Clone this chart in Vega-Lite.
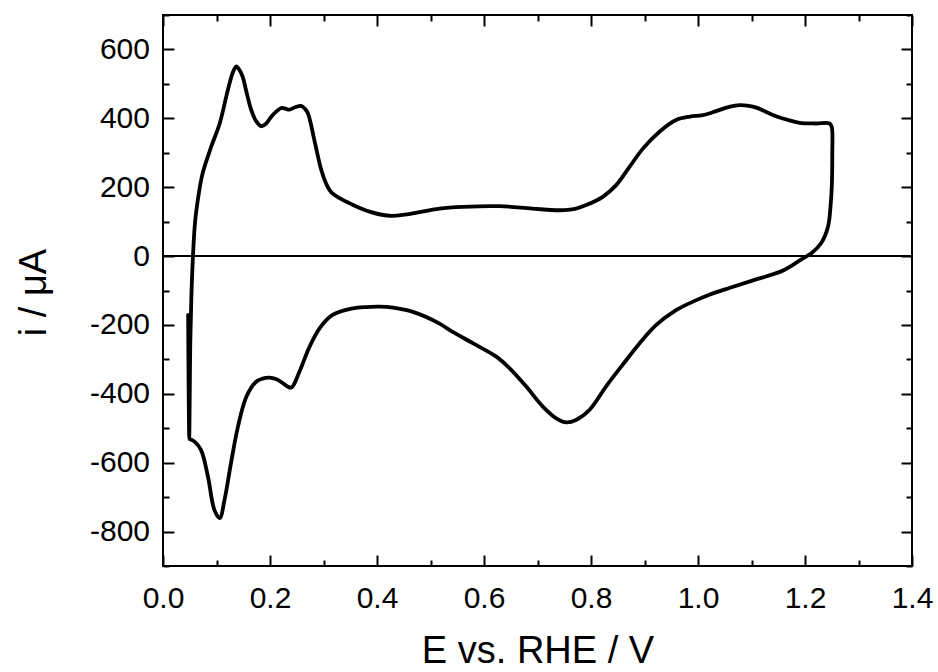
{
  "$schema": "https://vega.github.io/schema/vega-lite/v6.json",
  "width": 749,
  "height": 551,
  "autosize": {"type": "none"},
  "padding": {"left": 163, "top": 15, "right": 26, "bottom": 106},
  "background": "white",
  "config": {
    "view": {"stroke": "black", "strokeWidth": 2},
    "axis": {
      "domain": false,
      "grid": false,
      "tickColor": "black",
      "tickWidth": 2,
      "labelFont": "Liberation Sans",
      "labelFontSize": 30,
      "labelColor": "black",
      "labelOverlap": false,
      "labelFlush": false,
      "labelBound": false,
      "titleFont": "Liberation Sans",
      "titleFontWeight": "normal",
      "titleColor": "black"
    }
  },
  "data": {
    "values": [
      {"k": 1, "E": 0.047, "i": -171},
      {"k": 2, "E": 0.048, "i": -400},
      {"k": 3, "E": 0.049, "i": -528},
      {"k": 4, "E": 0.050, "i": -400},
      {"k": 5, "E": 0.051, "i": -250},
      {"k": 6, "E": 0.053, "i": -120},
      {"k": 7, "E": 0.056, "i": 0},
      {"k": 8, "E": 0.060, "i": 100},
      {"k": 9, "E": 0.065, "i": 162},
      {"k": 10, "E": 0.074, "i": 240},
      {"k": 11, "E": 0.090, "i": 317},
      {"k": 12, "E": 0.106, "i": 385},
      {"k": 13, "E": 0.121, "i": 481},
      {"k": 14, "E": 0.131, "i": 535},
      {"k": 15, "E": 0.137, "i": 551},
      {"k": 16, "E": 0.143, "i": 540},
      {"k": 17, "E": 0.149, "i": 520},
      {"k": 18, "E": 0.157, "i": 470},
      {"k": 19, "E": 0.165, "i": 424},
      {"k": 20, "E": 0.174, "i": 392},
      {"k": 21, "E": 0.184, "i": 377},
      {"k": 22, "E": 0.193, "i": 385},
      {"k": 23, "E": 0.202, "i": 404},
      {"k": 24, "E": 0.212, "i": 420},
      {"k": 25, "E": 0.221, "i": 430},
      {"k": 26, "E": 0.229, "i": 428},
      {"k": 27, "E": 0.236, "i": 425},
      {"k": 28, "E": 0.247, "i": 432},
      {"k": 29, "E": 0.258, "i": 436},
      {"k": 30, "E": 0.265, "i": 428},
      {"k": 31, "E": 0.271, "i": 414},
      {"k": 32, "E": 0.283, "i": 336},
      {"k": 33, "E": 0.296, "i": 249},
      {"k": 34, "E": 0.305, "i": 210},
      {"k": 35, "E": 0.314, "i": 186},
      {"k": 36, "E": 0.330, "i": 168},
      {"k": 37, "E": 0.349, "i": 153},
      {"k": 38, "E": 0.386, "i": 129},
      {"k": 39, "E": 0.423, "i": 117},
      {"k": 40, "E": 0.455, "i": 121},
      {"k": 41, "E": 0.517, "i": 138},
      {"k": 42, "E": 0.560, "i": 143},
      {"k": 43, "E": 0.629, "i": 145},
      {"k": 44, "E": 0.690, "i": 138},
      {"k": 45, "E": 0.741, "i": 133},
      {"k": 46, "E": 0.770, "i": 137},
      {"k": 47, "E": 0.791, "i": 148},
      {"k": 48, "E": 0.822, "i": 172},
      {"k": 49, "E": 0.847, "i": 206},
      {"k": 50, "E": 0.872, "i": 259},
      {"k": 51, "E": 0.897, "i": 312},
      {"k": 52, "E": 0.928, "i": 361},
      {"k": 53, "E": 0.959, "i": 395},
      {"k": 54, "E": 0.985, "i": 405},
      {"k": 55, "E": 1.009, "i": 409},
      {"k": 56, "E": 1.034, "i": 421},
      {"k": 57, "E": 1.060, "i": 434},
      {"k": 58, "E": 1.078, "i": 438},
      {"k": 59, "E": 1.095, "i": 436},
      {"k": 60, "E": 1.109, "i": 431},
      {"k": 61, "E": 1.146, "i": 406},
      {"k": 62, "E": 1.171, "i": 394},
      {"k": 63, "E": 1.190, "i": 387},
      {"k": 64, "E": 1.220, "i": 385},
      {"k": 65, "E": 1.246, "i": 385},
      {"k": 66, "E": 1.250, "i": 375},
      {"k": 67, "E": 1.251, "i": 300},
      {"k": 68, "E": 1.250, "i": 200},
      {"k": 69, "E": 1.248, "i": 150},
      {"k": 70, "E": 1.243, "i": 85},
      {"k": 71, "E": 1.230, "i": 37},
      {"k": 72, "E": 1.212, "i": 8},
      {"k": 73, "E": 1.197, "i": -6},
      {"k": 74, "E": 1.177, "i": -26},
      {"k": 75, "E": 1.160, "i": -41},
      {"k": 76, "E": 1.140, "i": -53},
      {"k": 77, "E": 1.100, "i": -72},
      {"k": 78, "E": 1.060, "i": -92},
      {"k": 79, "E": 1.020, "i": -113},
      {"k": 80, "E": 0.997, "i": -128},
      {"k": 81, "E": 0.959, "i": -157},
      {"k": 82, "E": 0.922, "i": -200},
      {"k": 83, "E": 0.891, "i": -253},
      {"k": 84, "E": 0.859, "i": -316},
      {"k": 85, "E": 0.828, "i": -379},
      {"k": 86, "E": 0.797, "i": -447},
      {"k": 87, "E": 0.772, "i": -476},
      {"k": 88, "E": 0.754, "i": -483},
      {"k": 89, "E": 0.735, "i": -471},
      {"k": 90, "E": 0.710, "i": -437},
      {"k": 91, "E": 0.679, "i": -379},
      {"k": 92, "E": 0.648, "i": -326},
      {"k": 93, "E": 0.623, "i": -292},
      {"k": 94, "E": 0.579, "i": -253},
      {"k": 95, "E": 0.536, "i": -215},
      {"k": 96, "E": 0.517, "i": -196},
      {"k": 97, "E": 0.467, "i": -162},
      {"k": 98, "E": 0.430, "i": -150},
      {"k": 99, "E": 0.405, "i": -147},
      {"k": 100, "E": 0.380, "i": -148},
      {"k": 101, "E": 0.355, "i": -152},
      {"k": 102, "E": 0.317, "i": -171},
      {"k": 103, "E": 0.293, "i": -209},
      {"k": 104, "E": 0.274, "i": -263},
      {"k": 105, "E": 0.255, "i": -336},
      {"k": 106, "E": 0.240, "i": -382},
      {"k": 107, "E": 0.232, "i": -378},
      {"k": 108, "E": 0.224, "i": -369},
      {"k": 109, "E": 0.212, "i": -358},
      {"k": 110, "E": 0.199, "i": -353},
      {"k": 111, "E": 0.186, "i": -356},
      {"k": 112, "E": 0.174, "i": -365},
      {"k": 113, "E": 0.156, "i": -408},
      {"k": 114, "E": 0.140, "i": -496},
      {"k": 115, "E": 0.127, "i": -602},
      {"k": 116, "E": 0.115, "i": -708},
      {"k": 117, "E": 0.106, "i": -761},
      {"k": 118, "E": 0.096, "i": -737},
      {"k": 119, "E": 0.084, "i": -640},
      {"k": 120, "E": 0.071, "i": -563},
      {"k": 121, "E": 0.059, "i": -539},
      {"k": 122, "E": 0.050, "i": -531}
    ]
  },
  "layer": [
    {
      "data": {"values": [{}]},
      "mark": {"type": "rule", "color": "black", "strokeWidth": 2},
      "encoding": {
        "y": {"datum": 0, "type": "quantitative", "scale": {"domain": [-900, 700], "nice": false, "zero": false}, "axis": null}
      }
    },
    {
      "mark": {"type": "line", "color": "black", "strokeWidth": 3.8, "interpolate": "catmull-rom", "strokeJoin": "round", "strokeCap": "round"},
      "encoding": {
        "order": {"field": "k", "type": "quantitative"},
        "x": {
          "field": "E", "type": "quantitative",
          "scale": {"domain": [0, 1.4], "nice": false, "zero": false},
          "axis": {
            "orient": "bottom",
            "title": "E vs. RHE / V",
            "values": [0, 0.2, 0.4, 0.6, 0.8, 1.0, 1.2, 1.4],
            "format": ".1f",
            "tickSize": 11,
            "offset": -11,
            "labelPadding": 17,
            "titleFontSize": 38,
            "titleBaseline": "alphabetic",
            "titleY": 107
          }
        },
        "y": {
          "field": "i", "type": "quantitative",
          "scale": {"domain": [-900, 700], "nice": false, "zero": false},
          "axis": {
            "orient": "left",
            "title": "i / μA",
            "values": [-800, -600, -400, -200, 0, 200, 400, 600],
            "labelExpr": "toString(datum.value)",
            "tickSize": 11,
            "offset": -11,
            "labelPadding": 13.5,
            "titleFontSize": 38,
            "titleBaseline": "alphabetic",
            "titleAlign": "center",
            "titleAngle": -90,
            "titleX": -129,
            "titleY": 277
          }
        }
      }
    },
    {
      "mark": {"type": "line", "opacity": 0},
      "encoding": {
        "order": {"field": "k", "type": "quantitative"},
        "x": {
          "field": "E", "type": "quantitative",
          "axis": {"orient": "top", "title": null, "labels": false, "values": [0, 0.2, 0.4, 0.6, 0.8, 1.0, 1.2, 1.4], "tickSize": 11, "offset": -11}
        },
        "y": {
          "field": "i", "type": "quantitative",
          "axis": {"orient": "right", "title": null, "labels": false, "values": [-800, -600, -400, -200, 0, 200, 400, 600], "tickSize": 11, "offset": -11}
        }
      }
    },
    {
      "mark": {"type": "line", "opacity": 0},
      "encoding": {
        "order": {"field": "k", "type": "quantitative"},
        "x": {
          "field": "E", "type": "quantitative",
          "axis": {"orient": "bottom", "title": null, "labels": false, "values": [0.1, 0.3, 0.5, 0.7, 0.9, 1.1, 1.3], "tickSize": 6, "offset": -6}
        },
        "y": {
          "field": "i", "type": "quantitative",
          "axis": {"orient": "left", "title": null, "labels": false, "values": [-900, -700, -500, -300, -100, 100, 300, 500, 700], "tickSize": 6, "offset": -6}
        }
      }
    },
    {
      "mark": {"type": "line", "opacity": 0},
      "encoding": {
        "order": {"field": "k", "type": "quantitative"},
        "x": {
          "field": "E", "type": "quantitative",
          "axis": {"orient": "top", "title": null, "labels": false, "values": [0.1, 0.3, 0.5, 0.7, 0.9, 1.1, 1.3], "tickSize": 6, "offset": -6}
        },
        "y": {
          "field": "i", "type": "quantitative",
          "axis": {"orient": "right", "title": null, "labels": false, "values": [-900, -700, -500, -300, -100, 100, 300, 500, 700], "tickSize": 6, "offset": -6}
        }
      }
    }
  ],
  "resolve": {"axis": {"x": "independent", "y": "independent"}}
}
